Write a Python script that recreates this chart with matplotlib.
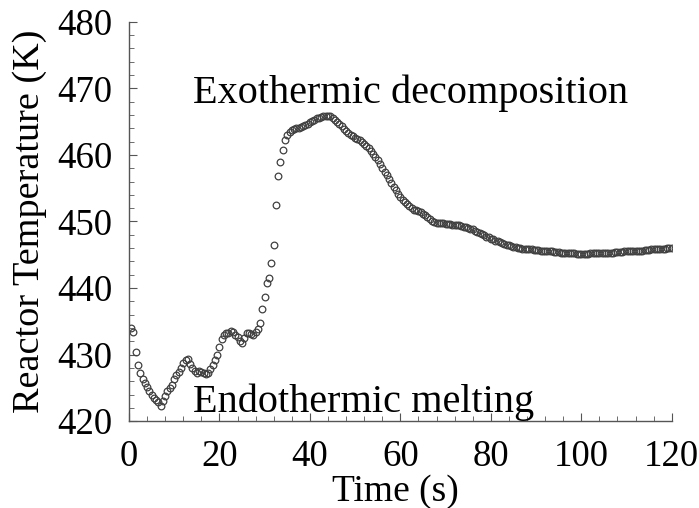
import numpy as np
import matplotlib
matplotlib.use('Agg')
import matplotlib.pyplot as plt
from matplotlib.ticker import MultipleLocator

# Reactor temperature, one sample every 0.5 s from 0.5 s to 120 s
time_s = np.arange(1, 241) * 0.5
temp_K = [
    434.0, 433.4, 430.4, 428.4, 427.3, 426.4, 425.7, 425.1, 424.5, 424.0,
    423.5, 423.2, 422.8, 422.3, 423.0, 423.8, 424.5, 425.0, 425.5, 426.4,
    427.0, 427.4, 428.0, 428.7, 429.2, 429.3, 428.6, 428.0, 427.6, 427.3,
    427.5, 427.4, 427.2, 427.1, 427.3, 427.9, 428.5, 429.2, 430.0, 431.2,
    432.3, 433.0, 433.2, 433.3, 433.6, 433.4, 433.0, 432.6, 432.1, 431.8,
    432.5, 433.3, 433.2, 433.1, 433.0, 433.4, 433.8, 434.8, 436.8, 438.6,
    440.8, 441.5, 443.7, 446.5, 452.5, 456.9, 459.0, 460.7, 462.2, 463.0,
    463.5, 463.8, 463.9, 464.0, 464.1, 464.2, 464.3, 464.5, 464.7, 464.9,
    465.1, 465.3, 465.5, 465.6, 465.7, 465.8, 465.8, 465.8, 465.8, 465.6,
    465.3, 465.0, 464.7, 464.3, 463.9, 463.6, 463.3, 463.0, 462.8, 462.6,
    462.4, 462.2, 462.0, 461.7, 461.3, 461.0, 460.6, 460.1, 459.7, 459.2,
    458.6, 458.0, 457.5, 457.0, 456.4, 455.8, 455.2, 454.7, 454.2, 453.7,
    453.3, 452.9, 452.6, 452.3, 452.0, 451.8, 451.7, 451.6, 451.4, 451.2,
    451.0, 450.7, 450.4, 450.1, 449.9, 449.7, 449.7, 449.7, 449.7, 449.6,
    449.6, 449.6, 449.5, 449.5, 449.4, 449.4, 449.3, 449.2, 449.1, 449.0,
    448.9, 448.8, 448.6, 448.4, 448.3, 448.1, 447.9, 447.7, 447.6, 447.4,
    447.3, 447.1, 447.0, 446.9, 446.7, 446.6, 446.5, 446.4, 446.3, 446.2,
    446.1, 446.0, 446.0, 445.9, 445.9, 445.8, 445.8, 445.8, 445.7, 445.7,
    445.7, 445.6, 445.6, 445.6, 445.5, 445.5, 445.5, 445.4, 445.4, 445.4,
    445.3, 445.3, 445.3, 445.2, 445.2, 445.2, 445.2, 445.1, 445.1, 445.1,
    445.1, 445.1, 445.1, 445.2, 445.2, 445.2, 445.2, 445.2, 445.2, 445.3,
    445.3, 445.3, 445.3, 445.3, 445.4, 445.4, 445.4, 445.4, 445.5, 445.5,
    445.5, 445.5, 445.5, 445.6, 445.6, 445.6, 445.6, 445.7, 445.7, 445.7,
    445.8, 445.8, 445.8, 445.8, 445.9, 445.9, 445.9, 446.0, 446.0, 446.0,
]

plt.rcParams['font.family'] = ['Liberation Serif', 'DejaVu Serif']

fig = plt.figure(figsize=(6.99, 5.08), dpi=100)
ax = fig.add_axes([0.1845, 0.171, 0.7765, 0.786])

ax.plot(time_s, temp_K, linestyle='none', marker='o', markersize=4.8,
        markerfacecolor='none', markeredgecolor='#404040', markeredgewidth=0.9)

ax.set_xlim(0, 120)
ax.set_ylim(420, 480)
ax.xaxis.set_major_locator(MultipleLocator(20))
ax.xaxis.set_minor_locator(MultipleLocator(4))
ax.yaxis.set_major_locator(MultipleLocator(10))
ax.yaxis.set_minor_locator(MultipleLocator(2))

for side in ['top', 'right']:
    ax.spines[side].set_visible(False)
for side in ['left', 'bottom']:
    ax.spines[side].set_color('#555555')
    ax.spines[side].set_linewidth(1.0)

ax.tick_params(which='both', direction='in', colors='#555555', labelcolor='black',
               labelsize=26.5)
ax.tick_params(which='major', length=6, width=0.8)
ax.tick_params(axis='x', which='major', pad=13)
ax.tick_params(axis='y', which='major', pad=12)
ax.tick_params(which='minor', length=3.5, width=0.6)

ax.set_xlabel('Time (s)', fontsize=27, va='baseline')
ax.xaxis.set_label_coords(0.49, -0.2)
ax.set_ylabel('Reactor Temperature (K)', fontsize=27.5, rotation=90,
              rotation_mode='anchor', va='baseline', ha='center')
ax.yaxis.set_label_coords(-0.166, 0.5)

ax.text(14.1, 467.8, 'Exothermic decomposition', fontsize=29, va='baseline', ha='left')
ax.text(14.1, 421.3, 'Endothermic melting', fontsize=29, va='baseline', ha='left')

plt.savefig('out.png', dpi=100)
